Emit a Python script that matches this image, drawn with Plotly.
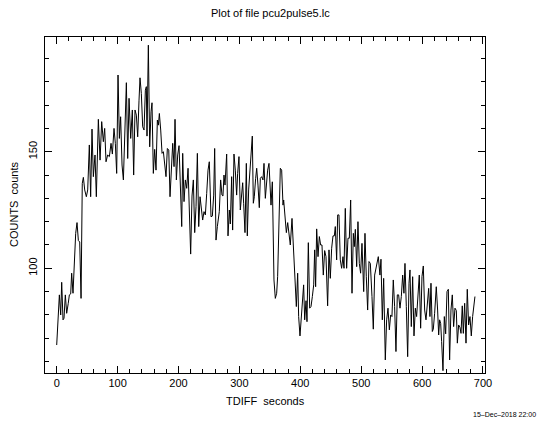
import plotly.graph_objects as go

# Light curve: time since start (s) and counts per bin
tdiff = [
    0, 2.7, 4.4, 6.6, 8.2, 10.4, 12, 14.2, 16.4, 19, 20.8, 23, 24.6, 26.8, 29.6, 31.2, 33.4, 35.6, 37.8, 40,
    42, 43.8, 46, 48.7, 50.9, 53.6, 55.8, 58, 60.2, 62.9, 65.1, 68.4, 71.2, 73.9, 76.6, 78.8, 81, 83.7, 86.5, 89.2,
    91.4, 94.1, 96.3, 98.5, 100.7, 102.9, 105, 107.3, 109.5, 111.7, 114.4, 116.6, 118.8, 121.5, 124.2, 126.4, 128.6, 130.8, 133, 135.2,
    136.8, 139, 141.2, 143.4, 145.6, 147.2, 148.3, 150.5, 152.7, 154.9, 156.5, 158.7, 160.9, 163.1, 165.3, 167, 168.6, 170.8, 173, 175.2,
    177.4, 179.5, 181.7, 184, 186.1, 188.3, 190.5, 192.7, 194.3, 196.5, 198.7, 200.9, 202.5, 205.3, 206.9, 209.1, 211.3, 213.5, 215.7, 217.9,
    220, 222.2, 224.4, 226.6, 228.8, 231, 233.2, 235.4, 237.5, 239.7, 241.9, 244.1, 246.3, 248.5, 250.6, 253.4, 255.6, 257.8, 259.4, 261.6,
    263.8, 267, 269.2, 271.4, 273, 274.7, 276.4, 279.1, 281.3, 283.5, 285.1, 287.3, 288.9, 291.1, 293.3, 295.5, 297.1, 299.3, 301.5, 303.2,
    305.4, 307, 309.2, 311.4, 313, 315.2, 317.4, 319.6, 321.2, 322.9, 324.5, 326.7, 328.4, 330.5, 332.7, 334.4, 336.6, 338.7, 340.4, 342.6,
    344.8, 346.4, 348.6, 350.3, 351.9, 354.1, 356.8, 359, 361.2, 362.8, 364.5, 367.2, 369.4, 371.6, 372.7, 374.9, 377.1, 379.3, 381.5, 383.6,
    386.4, 388.6, 391.3, 393.5, 395.7, 397.3, 399.5, 401.7, 403.9, 405.5, 407.2, 409.4, 411, 413.2, 415.4, 417.6, 419.8, 422, 423.6, 425.2,
    426.9, 429.1, 431.3, 433.4, 435.6, 437.8, 440, 442.2, 444.9, 447.1, 449.3, 451.5, 453.7, 455.9, 457.5, 459.7, 461.4, 463.5, 465.7, 467.9,
    470.1, 471.8, 473.9, 476.1, 478.3, 480.5, 482.7, 484.9, 487.1, 488.7, 490.4, 492.6, 494.7, 496.9, 499.1, 501.3, 504.1, 506.2, 508.4, 510.6,
    512.8, 515, 517.7, 519.9, 522.1, 524.3, 528.1, 530.8, 532.5, 534.7, 536.9, 539.6, 541.8, 544, 546.2, 548.4, 550.5, 552.7, 554.9, 557.1,
    559.3, 561.5, 563.7, 565.9, 568.1, 570.2, 571.9, 574.1, 576.3, 578.5, 580.1, 582.3, 584.5, 586.7, 588.9, 591, 593.2, 595.4, 597.6, 599.8,
    602, 604.2, 606.4, 608.6, 610.8, 612.9, 614.6, 616.8, 618.4, 620.6, 623.3, 625.5, 627.2, 628.8, 630.5, 632.1, 634.3, 636.5, 638.7, 640.9,
    643.1, 645.2, 647.4, 649.6, 651.8, 654, 656.2, 657.9, 660, 662.2, 663.9, 666, 667.7, 669.9, 672.1, 674.2, 676.4, 678.6, 680.8, 683,
    686.8,
]
counts = [
    67.1, 85, 88.6, 80, 94, 77.9, 78.6, 88.6, 80.7, 85, 88.6, 89, 97.9, 89.3, 103.6, 115, 119.6, 111.9, 111.3, 87.1,
    136.4, 139, 133.6, 130.7, 133.6, 152.9, 130.7, 159.7, 139.3, 148.6, 130.7, 163.9, 146.4, 162.9, 154.3, 160, 145.7, 148.6, 147.9, 153.6,
    149, 160, 153.6, 140.7, 182.9, 155.7, 165, 144.3, 137.9, 155, 179.6, 147.1, 172.9, 155.7, 167.9, 140, 167.9, 165.7, 156.4, 172.1,
    181.7, 175, 160.7, 159.3, 176.4, 177.9, 156.7, 195.7, 152.1, 167.1, 171, 140.7, 151, 142.1, 163.6, 161.4, 166.4, 159.3, 149.3, 150,
    145, 139.3, 151.4, 150.7, 130.7, 145, 153.6, 143.6, 163.9, 137.9, 148.6, 152.6, 142.1, 117.9, 149.3, 128.6, 137.9, 134.3, 142.9, 127.9,
    106.1, 131, 137.9, 115.3, 126.4, 149.3, 117.9, 130.7, 126.4, 120.7, 124.3, 122.9, 132.1, 142.1, 145.7, 122.1, 122.4, 131.4, 151.4, 112.1,
    117.9, 124.3, 137.9, 131.4, 131, 140, 135.7, 149, 113.9, 125, 119, 139.3, 116.4, 149, 142.1, 131.4, 140.7, 147.9, 125, 130.7,
    136.7, 127.9, 115.3, 145, 113.9, 133.6, 142.9, 147.9, 156.7, 127.9, 130.7, 138.6, 142.9, 135.7, 126, 138.6, 139.3, 137.9, 145, 130,
    139.3, 142.1, 145, 136.4, 127.1, 137.1, 95, 87.1, 89.3, 96.4, 119.3, 142.9, 142.1, 127.1, 129.3, 122.1, 115.3, 119.6, 113.9, 110,
    121.4, 110.7, 99.3, 83.6, 97.9, 79.3, 71, 79.3, 87.9, 92.9, 77.9, 86.1, 77.1, 111, 82.9, 83.6, 87.9, 92.9, 107.9, 92.1,
    116.9, 105, 113.6, 110, 110, 97.1, 107.6, 105, 83.9, 107.9, 95.7, 108.6, 113.9, 113.9, 117.9, 103.6, 122.9, 122.9, 103.6, 100,
    105, 100, 125.7, 100, 112.9, 112.9, 129.3, 89.3, 115, 109.3, 116.7, 100.7, 120, 102.1, 97.9, 110.7, 90, 115, 96.4, 82.1,
    102.9, 102.1, 87.9, 73.9, 97.1, 99.6, 105, 97.1, 103.9, 77.9, 95.7, 60.7, 77.9, 82.9, 73.6, 80, 79.3, 95, 83.6, 64.3,
    88.6, 88.6, 82.9, 87.9, 97.1, 89.3, 102.1, 83.6, 62.1, 93.6, 99.3, 75, 96.4, 71, 82.9, 79.3, 87.9, 97.1, 74.3, 96.4,
    101, 82.1, 77.9, 85, 91.4, 79.3, 93.6, 72.9, 73.9, 80.7, 92.1, 82.1, 71.4, 77.9, 76.4, 68.6, 56.1, 79.3, 71.9, 90,
    91, 60.7, 82.1, 88.6, 75, 82.9, 81.9, 67.9, 75.7, 74.6, 72.1, 83.9, 72.1, 85, 67.9, 91, 75.7, 79.3, 71, 79.3,
    87.9,
]

x_ticks = [0, 100, 200, 300, 400, 500, 600, 700]
y_ticks = [100, 150]

FONT = "Liberation Sans"
L, R, T, B = 45, 56, 37, 52
W, H = 541, 425
pw, ph = W - L - R, H - T - B

def px_to_paper_x(px):
    return (px - L) / pw

def px_to_paper_y(py):
    return (H - B - py) / ph

fig = go.Figure(
    go.Scatter(
        x=tdiff, y=counts, mode="lines",
        line=dict(color="black", width=1),
        hoverinfo="x+y",
    )
)

axis_common = dict(
    showline=True, linecolor="black", linewidth=1, mirror="allticks",
    ticks="inside", tickcolor="black", tickwidth=1, showgrid=False, zeroline=False,
    tickfont=dict(family=FONT, size=11, color="black"),
)

fig.update_xaxes(
    range=[-19.2, 703.3], tickvals=x_ticks, ticklen=7,
    minor=dict(ticks="inside", dtick=20, ticklen=4, tickcolor="black", showgrid=False),
    **axis_common,
)
fig.update_yaxes(
    range=[55.1, 199.2], tickvals=y_ticks, ticklen=7, tickangle=-90,
    ticklabelstandoff=3,
    minor=dict(ticks="inside", dtick=10, ticklen=4, tickcolor="black", showgrid=False),
    **axis_common,
)

annotations = [
    dict(text="Plot of file pcu2pulse5.lc", x=px_to_paper_x(270), y=px_to_paper_y(13),
         font=dict(size=11)),
    dict(text="TDIFF  seconds", x=0.5, y=px_to_paper_y(401), font=dict(size=11)),
    dict(text="COUNTS  counts", x=px_to_paper_x(14), y=0.5, textangle=-90, font=dict(size=11)),
    dict(text="15\u2013Dec\u20132018 22:00", x=px_to_paper_x(538), y=px_to_paper_y(414),
         xanchor="right", font=dict(size=7)),
]
for a in annotations:
    a.setdefault("xanchor", "center")
    a["font"] = dict(family=FONT, color="black", **a["font"])
    fig.add_annotation(xref="paper", yref="paper", showarrow=False, yanchor="middle", **a)

fig.update_layout(
    width=W, height=H,
    margin=dict(l=L, r=R, t=T, b=B),
    paper_bgcolor="white", plot_bgcolor="white",
    showlegend=False,
)

fig.write_html("out.html")
